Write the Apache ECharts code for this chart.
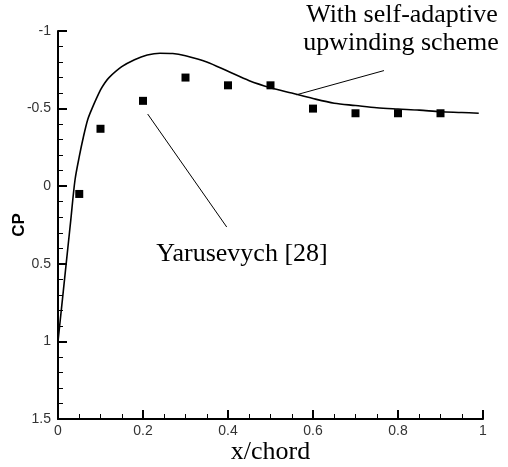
<!DOCTYPE html>
<html><head><meta charset="utf-8">
<script src="https://cdn.jsdelivr.net/npm/echarts@6/dist/echarts.min.js"></script>
<style>html,body{margin:0;padding:0;background:#fff}#c{width:508px;height:467px}</style>
</head><body><div id="c"></div>
<script>
// Computed curve (self-adaptive upwinding scheme)
const curveX = [0, 0.005, 0.01, 0.02, 0.03, 0.04, 0.05, 0.06, 0.07, 0.08, 0.10, 0.11, 0.12, 0.15, 0.18, 0.21, 0.24, 0.27, 0.30, 0.35, 0.40, 0.45, 0.50, 0.55, 0.60, 0.65, 0.70, 0.75, 0.80, 0.85, 0.90, 0.95, 0.99];
const curveCp = [1.0, 0.87, 0.74, 0.48, 0.22, -0.04, -0.19, -0.32, -0.43, -0.50, -0.62, -0.665, -0.70, -0.77, -0.815, -0.845, -0.857, -0.855, -0.84, -0.80, -0.74, -0.68, -0.635, -0.60, -0.565, -0.535, -0.52, -0.505, -0.497, -0.49, -0.48, -0.475, -0.47];
// Experimental data (Yarusevych [28])
const expX = [0.05, 0.1, 0.2, 0.3, 0.4, 0.5, 0.6, 0.7, 0.8, 0.9];
const expCp = [0.05, -0.37, -0.55, -0.70, -0.65, -0.65, -0.50, -0.47, -0.47, -0.47];
// Annotation leader lines [x, cp]
const leaderSim = [[0.561, -0.589], [0.767, -0.745]];
const leaderExp = [[0.211, -0.465], [0.397, 0.263]];
const labelSim = ['With self-adaptive', 'upwinding scheme'];
const labelExp = 'Yarusevych [28]';

const chart = echarts.init(document.getElementById('c'), null, {renderer: 'canvas'});
const axisFont = {fontFamily: 'Liberation Sans, Arial', fontSize: 14, color: '#333'};
chart.setOption({
  animation: false,
  grid: {left: 58, right: 25, top: 31, bottom: 48, containLabel: false, outerBoundsMode: 'none'},
  xAxis: {
    type: 'value', min: 0, max: 1, interval: 0.2,
    name: 'x/chord', nameLocation: 'middle', nameGap: 20, nameMoveOverlap: false,
    nameTextStyle: {fontFamily: 'Liberation Serif, Times New Roman', fontSize: 26, color: '#000'},
    axisLine: {show: true, onZero: false, lineStyle: {color: '#000', width: 2}},
    axisTick: {show: true, inside: true, length: 9, lineStyle: {color: '#000', width: 2}},
    minorTick: {show: true, splitNumber: 4, length: 5, lineStyle: {color: '#000', width: 1}},
    splitLine: {show: false},
    axisLabel: Object.assign({margin: 5, formatter: v => String(+v.toFixed(1))}, axisFont)
  },
  yAxis: {
    type: 'value', min: -1, max: 1.5, interval: 0.5, inverse: true,
    name: 'CP', nameLocation: 'middle', nameGap: 30, nameRotate: 90, nameMoveOverlap: false,
    nameTextStyle: {fontFamily: 'Liberation Sans, Arial', fontSize: 17, fontWeight: 'bold', color: '#000'},
    axisLine: {show: true, onZero: false, lineStyle: {color: '#000', width: 2}},
    axisTick: {show: true, inside: true, length: 9, lineStyle: {color: '#000', width: 2}},
    minorTick: {show: true, splitNumber: 5, length: 5, lineStyle: {color: '#000', width: 1}},
    splitLine: {show: false},
    axisLabel: Object.assign({margin: 7, formatter: v => String(+v.toFixed(1))}, axisFont)
  },
  series: [
    {
      type: 'line', data: curveX.map((x, i) => [x, curveCp[i]]),
      showSymbol: false, smooth: 0.3,
      lineStyle: {color: '#000', width: 1.6},
      markLine: {
        silent: true, symbol: ['none', 'none'],
        lineStyle: {color: '#000', width: 1, type: 'solid'},
        label: {show: false},
        data: [
          [{coord: leaderSim[0]}, {coord: leaderSim[1]}],
          [{coord: leaderExp[0]}, {coord: leaderExp[1]}]
        ]
      }
    },
    {
      type: 'scatter', data: expX.map((x, i) => [x, expCp[i]]),
      symbol: 'rect', symbolSize: 8,
      itemStyle: {color: '#000', opacity: 1}
    }
  ],
  graphic: [
    {type: 'text', x: 402, y: 15, silent: true,
      style: {text: labelSim[0], font: '26px "Liberation Serif"', fill: '#000', textAlign: 'center', textVerticalAlign: 'middle'}},
    {type: 'text', x: 401, y: 43, silent: true,
      style: {text: labelSim[1], font: '26px "Liberation Serif"', fill: '#000', textAlign: 'center', textVerticalAlign: 'middle'}},
    {type: 'text', x: 242, y: 254, silent: true,
      style: {text: labelExp, font: '26px "Liberation Serif"', fill: '#000', textAlign: 'center', textVerticalAlign: 'middle'}}
  ]
});
</script></body></html>
